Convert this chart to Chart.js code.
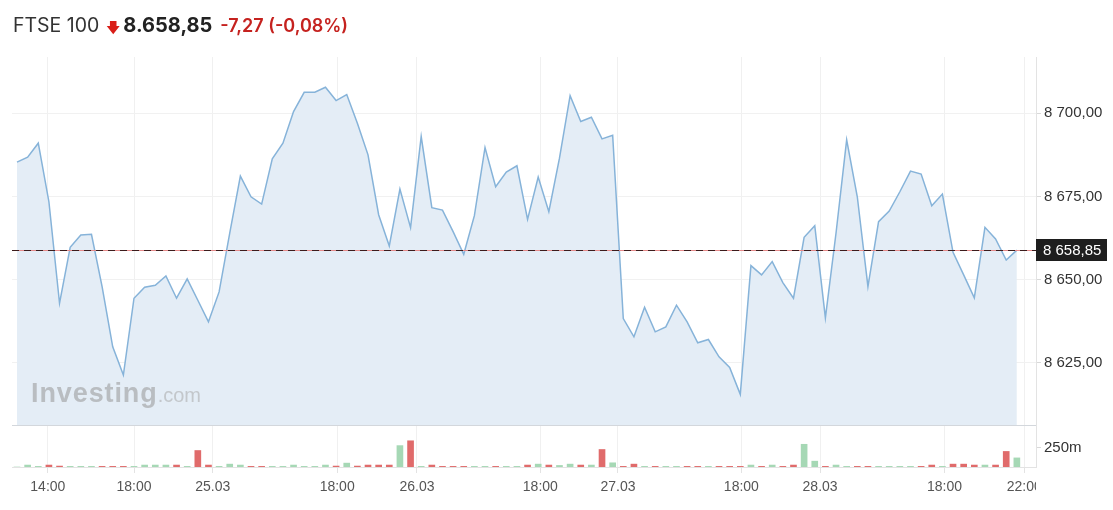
<!DOCTYPE html>
<html>
<head>
<meta charset="utf-8">
<script src="https://cdn.jsdelivr.net/npm/chart.js@4.4.1/dist/chart.umd.min.js"></script>
<style>
    html, body { margin: 0; padding: 0; background: #fff; }
    #wrap { position: relative; width: 1113px; height: 510px; overflow: hidden; }
    #grafica { position: absolute; left: 0; top: 0; }
    #titulo {
        position: absolute; left: 13px; top: 13px; white-space: nowrap; line-height: 24px;
        font-family: Inter, "Noto Sans", sans-serif; font-size: 19.5px; color: #333;
    }
    #titulo .flecha { color: #d91e18; font-size: 14px; margin: 0 -2px 0 1px; }
    #titulo .precio { font-weight: 700; color: #222; font-size: 20px; }
    #titulo .cambio { font-weight: 600; color: #c5221f; font-size: 18px; margin-left: 8px; }
    #marca {
        position: absolute; left: 31px; top: 378px; white-space: nowrap; line-height: 30px;
        font-family: "Liberation Sans", Arial, sans-serif; color: #b9bdc1;
    }
    #marca b { font-size: 27px; letter-spacing: 0.9px; }
    #marca span { font-size: 20px; color: #c3c7cb; }
</style>
</head>
<body>
<div id="wrap">
    <canvas id="grafica" width="1113" height="510"></canvas>
    <div id="titulo">FTSE 100 <span class="flecha">&#129095;</span> <span class="precio">8.658,85</span><span class="cambio">-7,27 (-0,08%)</span></div>
    <div id="marca"><b>Investing</b><span>.com</span></div>
</div>
<script>
"use strict";

// cierre por periodo (8 658,85 al final)
const precios = [
    8685.3, 8686.8, 8691.0, 8673.4, 8642.9, 8659.7, 8663.4, 8663.6, 8647.9, 8629.8,
    8621.3, 8644.4, 8647.7, 8648.3, 8651.1, 8644.4, 8650.2, 8643.8, 8637.3, 8646.3,
    8664.0, 8681.1, 8674.9, 8672.7, 8686.3, 8691.0, 8700.5, 8706.3, 8706.3, 8707.8,
    8703.8, 8705.6, 8697.0, 8687.5, 8669.5, 8660.1, 8677.2, 8665.6, 8693.0, 8671.6,
    8670.9, 8664.4, 8657.6, 8669.2, 8689.7, 8677.9, 8682.3, 8684.2, 8668.1, 8680.8,
    8670.4, 8686.5, 8705.3, 8697.5, 8698.8, 8692.3, 8693.4, 8638.3, 8632.8, 8641.7,
    8634.3, 8635.8, 8642.3, 8637.3, 8631.0, 8632.0, 8626.8, 8623.6, 8615.5, 8654.2,
    8651.4, 8655.4, 8649.1, 8644.4, 8662.7, 8666.2, 8638.5, 8664.0, 8692.0, 8674.9,
    8647.9, 8667.4, 8670.6, 8676.4, 8682.6, 8681.7, 8672.2, 8675.7, 8658.2, 8651.4,
    8644.5, 8665.7, 8662.2, 8655.9, 8658.85
];

// volumen en millones
const volumenes = [
    0, 25, 8, 25, 12, 8, 8, 8, 8, 8,
    8, 8, 25, 25, 25, 25, 8, 212, 25, 8,
    37, 25, 8, 8, 8, 8, 25, 8, 8, 25,
    12, 50, 12, 25, 25, 25, 275, 337, 8, 25,
    8, 8, 8, 8, 8, 8, 8, 8, 25, 37,
    25, 20, 37, 25, 25, 225, 54, 8, 37, 8,
    8, 8, 8, 8, 8, 8, 8, 8, 8, 25,
    8, 25, 8, 25, 292, 75, 8, 25, 8, 8,
    8, 8, 8, 8, 8, 8, 25, 8, 37, 37,
    25, 25, 25, 200, 117
];

const posEtiquetasX = [2.9, 11, 18.4, 30.1, 37.6, 49.2, 56.5, 68.1, 75.5, 87.2, 94.7];
const etiquetasX    = ["14:00", "18:00", "25.03", "18:00", "26.03", "18:00", "27.03", "18:00", "28.03", "18:00", "22:00"];
const ticksPrecio   = [8625, 8650, 8675, 8700];
const ticksVolumen  = [250];
const ultimoPrecio  = 8658.85;

const colorVerde = "#a6d8b5";
const colorRojo  = "#e06b6b";

function formatoPrecio(v) {
    const partes = v.toFixed(2).split(".");
    return partes[0].replace(/\B(?=(\d{3})+(?!\d))/g, " ") + "," + partes[1];
}

const coloresVol = volumenes.map((v, i) =>
    (i > 0 && precios[i] < precios[i - 1]) ? colorRojo : colorVerde
);

const recorteX = {
    id: "recorteX",
    afterLayout(chart) {
        const sc = chart.scales.x;
        if (sc._recortado) return;
        const original = sc.drawLabels;
        sc.drawLabels = function (area) {
            const c = this.ctx;
            c.save();
            c.beginPath();
            c.rect(0, 0, chart.chartArea.right, chart.height);
            c.clip();
            original.call(this, area);
            c.restore();
        };
        sc._recortado = true;
    }
};

const extras = {
    id: "extras",
    afterDatasetsDraw(chart) {
        const { ctx, chartArea, scales } = chart;
        const yb = Math.round(scales.y.bottom) + 0.5;
        ctx.save();
        ctx.strokeStyle = "#d3d7dc";
        ctx.lineWidth = 1;
        ctx.beginPath();
        ctx.moveTo(chartArea.left, yb);
        ctx.lineTo(chartArea.right, yb);
        ctx.stroke();

        const py = Math.round(scales.y.getPixelForValue(ultimoPrecio)) + 0.5;
        ctx.strokeStyle = "#e58a8a";
        ctx.beginPath();
        ctx.moveTo(chartArea.left, py);
        ctx.lineTo(chartArea.right, py);
        ctx.stroke();
        ctx.strokeStyle = "#3b1c1c";
        ctx.setLineDash([7, 5]);
        ctx.beginPath();
        ctx.moveTo(chartArea.left, py);
        ctx.lineTo(chartArea.right, py);
        ctx.stroke();
        ctx.restore();
    },
    afterDraw(chart) {
        const { ctx, chartArea, scales } = chart;
        const py = Math.round(scales.y.getPixelForValue(ultimoPrecio));
        ctx.save();
        ctx.fillStyle = "#3b1c1c";
        ctx.fillRect(chartArea.right - 1, py, 6, 1);
        ctx.fillStyle = "#1e1e1e";
        ctx.fillRect(chartArea.right, py - 11, 71, 22);
        ctx.fillStyle = "#ffffff";
        ctx.font = "15px 'Liberation Sans', Arial, sans-serif";
        ctx.textBaseline = "middle";
        ctx.fillText(formatoPrecio(ultimoPrecio), chartArea.right + 7, py + 1);
        ctx.restore();
    }
};

Chart.defaults.font.family = "'Liberation Sans', Arial, sans-serif";

const canvas = document.getElementById("grafica").getContext("2d");

new Chart(canvas, {
    type: "line",
    data: {
        datasets: [{
            type: "line",
            data: precios.map((v, i) => ({ x: i, y: v })),
            yAxisID: "y",
            borderColor: "#86b3d9",
            borderWidth: 1.5,
            backgroundColor: "#e4edf6",
            fill: "start",
            tension: 0,
            pointRadius: 0
        }, {
            type: "bar",
            data: volumenes.map((v, i) => ({ x: i, y: v })),
            yAxisID: "yv",
            backgroundColor: coloresVol,
            barThickness: 6,
            borderWidth: 0
        }]
    },
    options: {
        responsive: false,
        animation: false,
        events: [],
        layout: { padding: { left: 12, top: 57, right: 0, bottom: 0 } },
        plugins: {
            legend: { display: false },
            tooltip: { enabled: false }
        },
        scales: {
            x: {
                type: "linear",
                min: -0.47,
                max: 95.8,
                offset: false,
                grid: { color: "#f0f0f0", tickColor: "#e3e3e3", tickLength: 6, offset: false },
                border: { color: "#e3e3e3" },
                afterBuildTicks: sc => { sc.ticks = posEtiquetasX.map(v => ({ value: v })); },
                afterFit: sc => { sc.height = 43; },
                ticks: {
                    color: "#555",
                    font: { size: 14 },
                    padding: 6,
                    maxRotation: 0,
                    autoSkip: false,
                    callback: (v, i) => etiquetasX[i]
                }
            },
            y: {
                position: "right",
                stack: "panel",
                stackWeight: 368,
                min: 8606.3,
                max: 8716.9,
                grid: { color: "#f1f1f1", tickColor: "#d9d9d9", tickLength: 5 },
                border: { color: "#e3e3e3" },
                afterBuildTicks: sc => { sc.ticks = ticksPrecio.map(v => ({ value: v })); },
                afterFit: sc => { sc.width = 77; },
                ticks: {
                    color: "#333",
                    font: { size: 15 },
                    padding: 3,
                    callback: v => formatoPrecio(v)
                }
            },
            yv: {
                position: "right",
                stack: "panel",
                stackWeight: 42,
                min: 0,
                max: 540,
                grid: { drawOnChartArea: false, tickColor: "#d9d9d9", tickLength: 5 },
                border: { color: "#e3e3e3" },
                afterBuildTicks: sc => { sc.ticks = ticksVolumen.map(v => ({ value: v })); },
                afterFit: sc => { sc.width = 77; },
                ticks: {
                    color: "#333",
                    font: { size: 15 },
                    padding: 3,
                    callback: v => v + "m"
                }
            }
        }
    },
    plugins: [recorteX, extras]
});
</script>
</body>
</html>
